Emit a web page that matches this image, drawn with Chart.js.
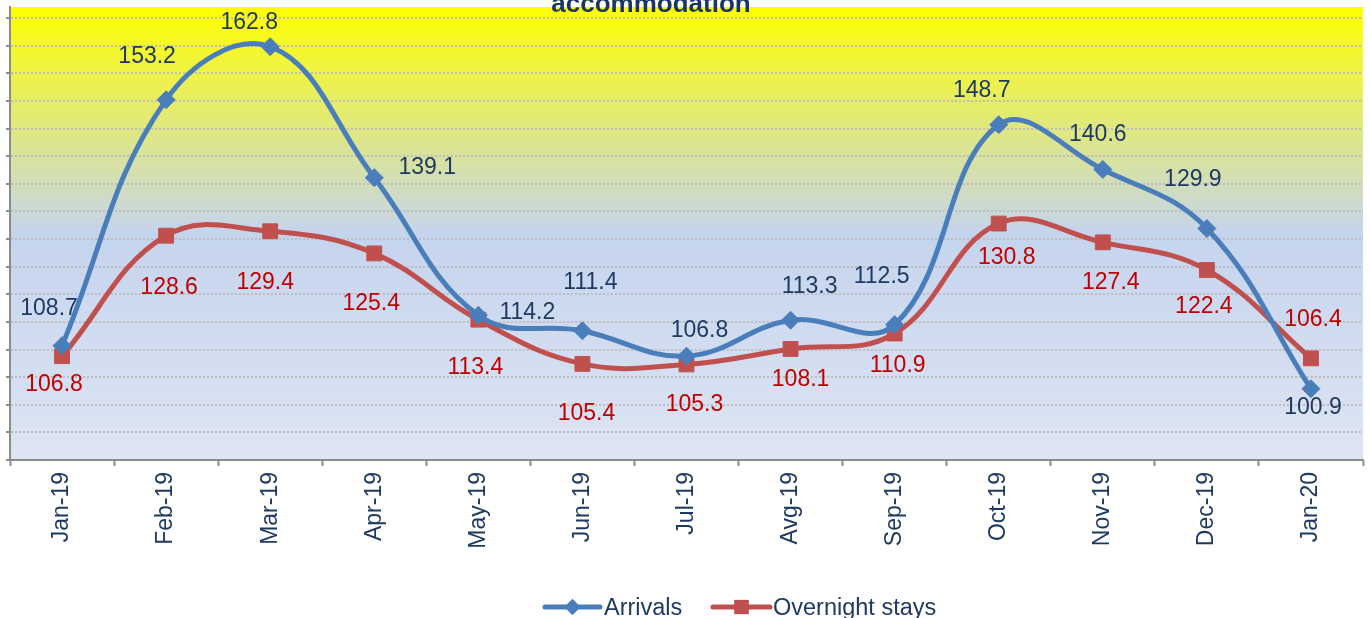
<!DOCTYPE html>
<html>
<head>
<meta charset="utf-8">
<script src="https://cdn.jsdelivr.net/npm/chart.js@4/dist/chart.umd.min.js"></script>
<style>
html,body{margin:0;padding:0;background:#fff;}
#wrap{width:1370px;height:618px;position:relative;}
</style>
</head>
<body>
<div id="wrap"><canvas id="c" width="1370" height="618"></canvas></div>
<script>
// ---- data ----
const categories = ['Jan-19','Feb-19','Mar-19','Apr-19','May-19','Jun-19','Jul-19','Avg-19','Sep-19','Oct-19','Nov-19','Dec-19','Jan-20'];
const arrivals  = [108.7,153.2,162.8,139.1,114.2,111.4,106.8,113.3,112.5,148.7,140.6,129.9,100.9];
const overnight = [106.8,128.6,129.4,125.4,113.4,105.4,105.3,108.1,110.9,130.8,127.4,122.4,106.4];
const seriesNames = ['Arrivals','Overnight stays'];
const titleText = 'accommodation';
const yMin = 88, yMax = 170, yStep = 5;

// ---- styles ----
const FONT = "'Liberation Sans', Arial, sans-serif";
const NAVY = '#1F3A60';
const BLUE = '#4A7EBB';
const RED = '#C0504D';
const LABEL_RED = '#C00000';
const arrivalsOffsets  = [[-13,-39],[-19,-45],[-21,-26],[53,-12],[49,-5],[8,-50],[13,-27],[19,-36],[-13,-50],[-17,-36],[-5,-37],[-14,-51],[2,17]];
const overnightOffsets = [[-8,27],[3,50],[-5,49],[-3,48],[-3,46],[4,48],[8,38],[10,29],[3,30],[8,32],[8,38],[-3,35],[2,-41]];

const bgPlugin = {
  id: 'bg',
  beforeDraw(chart) {
    const {ctx, chartArea: a} = chart;
    ctx.save();
    ctx.fillStyle = '#fff';
    ctx.fillRect(0, 0, chart.width, chart.height);
    const g = ctx.createLinearGradient(0, a.top, 0, a.bottom);
    g.addColorStop(0, '#FFFF00');
    g.addColorStop(0.5, '#C5D4EE');
    g.addColorStop(1, '#DEE5F3');
    ctx.fillStyle = g;
    ctx.fillRect(a.left, a.top, a.right - a.left, a.bottom - a.top);
    ctx.restore();
  }
};

const labelPlugin = {
  id: 'vlabels',
  afterDatasetsDraw(chart) {
    const ctx = chart.ctx;
    ctx.save();
    ctx.font = '23px ' + FONT;
    ctx.textAlign = 'center';
    ctx.textBaseline = 'alphabetic';
    const sets = [[arrivals, arrivalsOffsets, NAVY], [overnight, overnightOffsets, LABEL_RED]];
    sets.forEach((s, di) => {
      const meta = chart.getDatasetMeta(di);
      ctx.fillStyle = s[2];
      meta.data.forEach((pt, i) => {
        const o = s[1][i];
        ctx.fillText(s[0][i].toFixed(1), pt.x + o[0], pt.y + o[1] + 8.3);
      });
    });
    // title (partially cut at top)
    ctx.font = 'bold 26px ' + FONT;
    ctx.fillStyle = '#17375E';
    ctx.fillText(titleText, 651, 12);
    // legend
    const items = [
      {x0: 545, x1: 600, tx: 604, color: BLUE, style: 'rectRot', r: 8, name: seriesNames[0]},
      {x0: 713, x1: 770, tx: 773, color: RED, style: 'rect', r: 10, name: seriesNames[1]}
    ];
    const ly = 607;
    items.forEach(it => {
      ctx.strokeStyle = it.color;
      ctx.lineWidth = 5;
      ctx.lineCap = 'round';
      ctx.beginPath();
      ctx.moveTo(it.x0, ly);
      ctx.lineTo(it.x1, ly);
      ctx.stroke();
      ctx.fillStyle = it.color;
      Chart.helpers.drawPoint(ctx, {pointStyle: it.style, radius: it.r, borderWidth: 0}, (it.x0 + it.x1) / 2, ly);
      ctx.fill();
      ctx.fillStyle = NAVY;
      ctx.font = '23.5px ' + FONT;
      ctx.textAlign = 'left';
      ctx.fillText(it.name, it.tx, 615);
    });
    ctx.restore();
  }
};

new Chart(document.getElementById('c'), {
  type: 'line',
  data: {
    labels: categories,
    datasets: [
      {
        label: seriesNames[0], data: arrivals,
        borderColor: BLUE, backgroundColor: BLUE, borderWidth: 5,
        pointStyle: 'rectRot', pointRadius: 9, pointHoverRadius: 9,
        pointBorderColor: BLUE, pointBackgroundColor: BLUE, pointBorderWidth: 1,
        tension: 0.4, fill: false
      },
      {
        label: seriesNames[1], data: overnight,
        borderColor: RED, backgroundColor: RED, borderWidth: 5,
        pointStyle: 'rect', pointRadius: 10.5, pointHoverRadius: 10.5,
        pointBorderColor: RED, pointBackgroundColor: RED, pointBorderWidth: 1,
        tension: 0.4, fill: false
      }
    ]
  },
  options: {
    responsive: false,
    animation: false,
    events: [],
    layout: {autoPadding: false, padding: {top: 7, right: 7, left: 0, bottom: 0}},
    plugins: {legend: {display: false}, title: {display: false}, tooltip: {enabled: false}},
    scales: {
      x: {
        type: 'category',
        offset: true,
        grid: {display: true, offset: true, drawOnChartArea: false, drawTicks: true, tickLength: 6, tickColor: '#8C8C8C', tickWidth: 2},
        border: {display: true, color: '#8C8C8C', width: 2},
        ticks: {
          autoSkip: false, minRotation: 90, maxRotation: 90, padding: 6,
          color: NAVY, font: {family: FONT, size: 23}
        },
        afterFit(scale) { scale.height = 158; scale.paddingLeft = 0; scale.paddingRight = 0; }
      },
      y: {
        min: yMin, max: yMax,
        afterBuildTicks(scale) {
          const t = [];
          for (let v = yMin; v <= yMax; v += yStep) t.push({value: v});
          scale.ticks = t;
        },
        grid: {color: '#BDBDBD', lineWidth: 2, drawTicks: true, tickLength: 4, tickColor: '#8C8C8C', tickWidth: 2, tickBorderDash: []},
        border: {display: true, color: '#8C8C8C', width: 2, dash: [2, 2]},
        ticks: {display: false},
        afterFit(scale) { scale.width = 10; scale.paddingTop = 0; scale.paddingBottom = 0; }
      }
    }
  },
  plugins: [bgPlugin, labelPlugin]
});
</script>
</body>
</html>
